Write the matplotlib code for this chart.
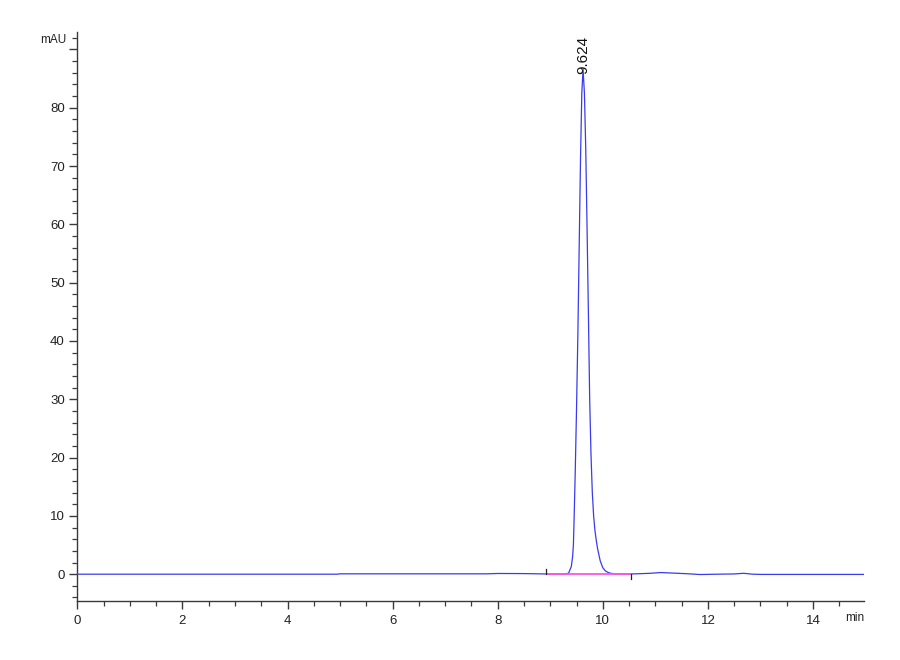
"""
Chromatogram at 214 nm: one main peak at 9.624 min.
"""

import matplotlib
matplotlib.use("Agg")
import matplotlib.pyplot as plt
from matplotlib.ticker import MultipleLocator

# Signal (time [min], absorbance [mAU])
time_min = [
    0.0, 4.95, 5.0, 7.8, 8.0, 8.5, 8.9, 9.2, 9.30, 9.35, 9.40, 9.425, 9.44,
    9.455, 9.475, 9.50, 9.525, 9.55, 9.575, 9.60, 9.624, 9.65, 9.675, 9.70,
    9.725, 9.75, 9.775, 9.80, 9.825, 9.85, 9.875, 9.90, 9.95, 10.00, 10.05,
    10.10, 10.15, 10.25, 10.6, 10.9, 11.1, 11.3, 11.6, 11.85,
    12.2, 12.5, 12.68, 12.85, 13.0, 15.0,
]
signal_mau = [
    0.0, 0.0, 0.06, 0.06, 0.12, 0.1, 0.04, 0.02, 0.03, 0.2, 1.3, 3.0, 5.0,
    10.0, 17.5, 28.5, 41.0, 56.0, 71.0, 82.5, 86.6, 82.5, 73.0, 59.5,
    45.0, 30.0, 20.5, 14.0, 10.0, 7.5, 5.8, 4.4, 2.3, 1.1, 0.55,
    0.3, 0.15, 0.05, 0.05, 0.15, 0.28, 0.2, 0.08, -0.06,
    0.0, 0.04, 0.15, 0.0, -0.04, -0.04,
]

# Peak annotation and integration limits
peak_rt = 9.624
peak_height = 86.6
peak_label = "9.624"
integ_start = 8.92
integ_end = 10.54

plt.rcParams['font.family'] = ['Liberation Sans', 'DejaVu Sans']

AXIS_COLOR = "#3a3a3a"


def main():
    fig = plt.figure(figsize=(9, 6.6), dpi=100)
    ax = fig.add_axes([0.0859, 0.0894, 0.8741, 0.8621])

    # Trace
    ax.plot(time_min, signal_mau, color="#3a3aee", lw=0.9, zorder=3)

    # Integration baseline and its limit marks
    ax.plot([integ_start, integ_end], [0, 0], color="#ff55dd", lw=1.3, zorder=4)
    ax.plot([integ_start, integ_start], [0, 0.9], color="#222222", lw=0.9, zorder=5)
    ax.plot([integ_end, integ_end], [0, -0.9], color="#222222", lw=0.9, zorder=5)

    # Retention time label
    ax.text(peak_rt, peak_height - 0.8, peak_label, rotation=90,
            ha="center", va="bottom", fontsize=11, color="#111111")

    # Axes look
    ax.set_xlim(0, 14.97)
    ax.set_ylim(-4.6, 93.0)
    for side in ["top", "right"]:
        ax.spines[side].set_visible(False)
    for side in ["left", "bottom"]:
        ax.spines[side].set_color(AXIS_COLOR)
        ax.spines[side].set_linewidth(1.0)

    ax.xaxis.set_minor_locator(MultipleLocator(0.5))
    ax.yaxis.set_minor_locator(MultipleLocator(2))
    ax.set_xticks(range(0, 15, 2))
    ax.set_yticks(range(0, 91, 10))
    ax.set_yticklabels([str(v) for v in range(0, 81, 10)] + [""])

    ax.tick_params(axis="both", which="major", colors=AXIS_COLOR,
                   labelcolor="#222222", labelsize=9.5, direction="out")
    ax.tick_params(axis="x", which="major", length=6, width=1.0, pad=4)
    ax.tick_params(axis="y", which="major", length=6, width=1.0, pad=3)
    ax.tick_params(axis="both", which="minor", length=3.5, width=0.9,
                   colors=AXIS_COLOR, direction="out")

    # Unit labels in the tick label style
    ax.text(-0.2, 91.6, "mAU", ha="right", va="center", fontsize=8.5,
            color="#222222", clip_on=False)
    ax.text(14.8, -6.5, "min", ha="center", va="top", fontsize=8.5,
            color="#222222", clip_on=False)

    plt.savefig("out.png", dpi=100)


if __name__ == "__main__":
    main()
